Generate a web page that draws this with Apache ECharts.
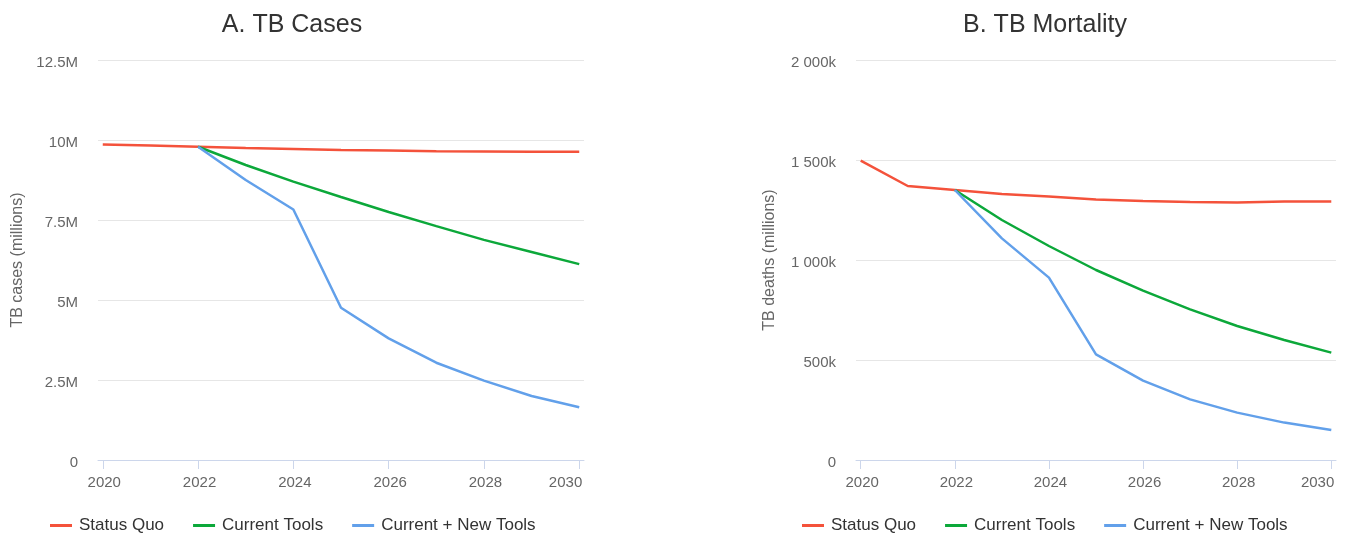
<!DOCTYPE html>
<html>
<head>
<meta charset="utf-8">
<script src="https://cdn.jsdelivr.net/npm/echarts@6/dist/echarts.min.js"></script>
<style>
html,body{margin:0;padding:0;background:#fff;}
#c{width:1350px;height:538px;}
</style>
</head>
<body>
<div id="c"></div>
<script>
const years = [2020,2021,2022,2023,2024,2025,2026,2027,2028,2029,2030];
const seriesNames = ['Status Quo','Current Tools','Current + New Tools'];
// TB cases, millions
const casesStatusQuo = [9.86,9.83,9.79,9.75,9.72,9.69,9.67,9.65,9.64,9.63,9.63];
const casesCurrentTools = [null,null,9.79,9.22,8.70,8.22,7.75,7.31,6.88,6.50,6.12];
const casesNewTools = [null,null,9.79,8.75,7.83,4.76,3.80,3.04,2.48,2.00,1.65];
// TB deaths, thousands
const deathsStatusQuo = [1497,1370,1350,1330,1317,1303,1295,1290,1288,1292,1293];
const deathsCurrentTools = [null,null,1350,1200,1070,950,847,753,670,600,537];
const deathsNewTools = [null,null,1350,1108,912,528,397,303,237,187,150];
const xTicks = [2020,2022,2024,2026,2028,2030];
const titles = ['A. TB Cases','B. TB Mortality'];
const yNames = ['TB cases (millions)','TB deaths (millions)'];

const colors = ['#f4523b','#0ca83a','#62a0ea'];
const font = 'Liberation Sans, Arial, sans-serif';

function pairs(arr){ return years.map((y,i)=>[y,arr[i]]).filter(p=>p[1]!==null); }

function xAxis(gi){
  return {
    type:'value', gridIndex:gi, min:2019.9, max:2030.1,
    splitLine:{show:false},
    axisLine:{show:true,lineStyle:{color:'#ccd6eb',width:1}},
    axisTick:{show:true,customValues:xTicks,length:9,lineStyle:{color:'#ccd6eb'}},
    axisLabel:{customValues:xTicks,color:'#666',fontSize:15,fontFamily:font,margin:15,alignMaxLabel:'right',padding:[0,-3,0,0],formatter:v=>String(v)}
  };
}
function yAxis(gi,max,interval,fmt,gap){
  return {
    type:'value', gridIndex:gi, min:0, max:max, interval:interval,
    name:yNames[gi], nameLocation:'middle', nameGap:gap,
    nameTextStyle:{color:'#666',fontSize:16,fontFamily:font},
    axisLine:{show:false}, axisTick:{show:false},
    splitLine:{lineStyle:{color:'#e6e6e6',width:1}},
    axisLabel:{color:'#666',fontSize:15,fontFamily:font,margin:20,
      formatter:v=>'{a|'+fmt(v)+'}',
      rich:{a:{color:'#666',fontSize:15,fontFamily:font,padding:[6,0,0,0]}}}
  };
}
function line(name,gi,data,ci){
  return {
    name:name, type:'line', xAxisIndex:gi, yAxisIndex:gi, data:pairs(data),
    showSymbol:false, symbol:'none', smooth:false,
    lineStyle:{color:colors[ci],width:2.5}, itemStyle:{color:colors[ci]},
    emphasis:{disabled:true}
  };
}
function kfmt(v){
  if(v===0) return '0';
  if(v>=1000){ return Math.floor(v/1000)+' '+String(v%1000).padStart(3,'0')+'k'; }
  return v+'k';
}
const legendCommon = {
  itemWidth:22,itemHeight:3,itemGap:29,icon:'rect',
  textStyle:{color:'#333',fontSize:17,fontFamily:font,padding:[0,0,0,2]},
  top:512
};

const chart = echarts.init(document.getElementById('c'),null,{renderer:'canvas'});
chart.setOption({
  backgroundColor:'#fff',
  animation:false,
  title:[
    {text:titles[0],left:287,top:8,textAlign:'center',textStyle:{color:'#333',fontSize:25,fontWeight:'normal',fontFamily:font}},
    {text:titles[1],left:1040,top:8,textAlign:'center',textStyle:{color:'#333',fontSize:25,fontWeight:'normal',fontFamily:font}}
  ],
  legend:[
    Object.assign({},legendCommon,{left:45,data:seriesNames.slice()}),
    Object.assign({},legendCommon,{left:797,data:seriesNames.slice()})
  ],
  grid:[
    {left:98,top:60,width:486,height:400},
    {left:856,top:60,width:480,height:400}
  ],
  xAxis:[xAxis(0),xAxis(1)],
  yAxis:[
    yAxis(0,12.5,2.5,v=>v===0?'0':v+'M',72),
    yAxis(1,2000,500,kfmt,78)
  ],
  series:[
    line(seriesNames[0],0,casesStatusQuo,0),
    line(seriesNames[1],0,casesCurrentTools,1),
    line(seriesNames[2],0,casesNewTools,2),
    line(seriesNames[0],1,deathsStatusQuo,0),
    line(seriesNames[1],1,deathsCurrentTools,1),
    line(seriesNames[2],1,deathsNewTools,2)
  ]
});
</script>
</body>
</html>
